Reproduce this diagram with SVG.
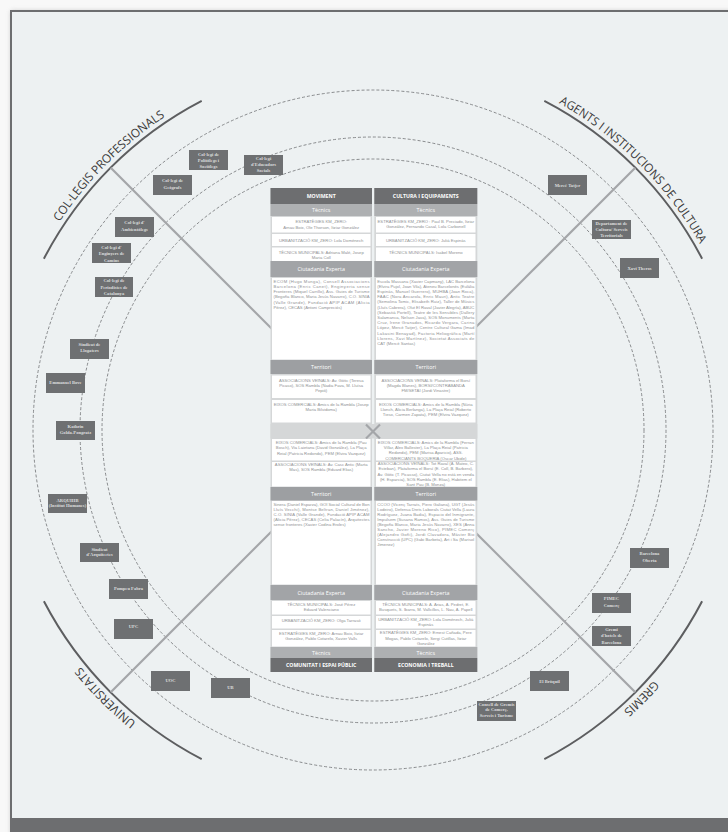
<svg xmlns="http://www.w3.org/2000/svg" width="728" height="832" viewBox="0 0 728 832">
<defs>
<filter id="sh" x="-5%" y="-5%" width="110%" height="110%"><feGaussianBlur stdDeviation="2.5"/></filter>
<path id="pTL" d="M 19.7 301.4 A 374 374 0 0 1 244.4 76.7"/>
<path id="pTR" d="M 501.6 76.7 A 374 374 0 0 1 726.3 301.4"/>
<path id="pBR" d="M 726.3 558.6 A 374 374 0 0 1 501.6 783.3"/>
<path id="pBL" d="M 244.4 783.3 A 374 374 0 0 1 19.7 558.6"/>
</defs>
<style>
.dash{fill:none;stroke:#7d7f81;stroke-width:0.9;stroke-dasharray:3 2}
.arc{fill:none;stroke:#5d5e60;stroke-width:2}
.con{stroke:#a4a6a9;stroke-width:2.2}
.lbl{font-family:"Open Sans","DejaVu Sans",sans-serif;font-size:12px;fill:#3a3a3a}
.nb{fill:#6e7072}
.nt{font-family:"Liberation Serif",serif;font-weight:bold;fill:#dcdddd;text-anchor:middle;font-size:4.6px}
.colbg{fill:#d5d7d8}
.hd{fill:#6d6e70}
.tc{fill:#aeb0b2}
.ce{fill:#a2a4a7}
.tr{fill:#9d9fa2}
.cell{fill:#fff}
.bt{font-family:"Open Sans",sans-serif;font-size:5.4px;fill:#fff;text-anchor:middle}
.ht{font-family:"Open Sans",sans-serif;font-size:5.2px;font-weight:bold;fill:#fff;text-anchor:middle}
.ct{font-family:"Liberation Sans",sans-serif;font-size:4.2px;fill:#8f9193;text-anchor:middle}
.jt{font-family:"Liberation Sans",sans-serif;font-size:4.2px;fill:#8f9193}
</style>
<rect width="728" height="832" fill="#f8f8f8"/>
<rect x="11" y="11" width="740" height="830" fill="#9a9a9a" opacity="0.6" filter="url(#sh)"/>
<rect x="11" y="11" width="740" height="830" fill="#edf1f2" stroke="#6d6e70" stroke-width="2"/>
<rect x="11" y="818" width="717" height="14" fill="#6d6e70"/>

<g id="rings">
<circle class="dash" cx="373" cy="430" r="340"/>
<circle class="dash" cx="373" cy="430" r="293"/>
<circle class="dash" cx="373" cy="430" r="271"/>
</g>

<g id="arcs">
<path class="arc" d="M 43.9 258.7 A 371 371 0 0 1 201.7 100.9"/>
<path class="arc" d="M 544.3 100.9 A 371 371 0 0 1 702.1 258.7"/>
<path class="arc" d="M 702.1 601.3 A 371 371 0 0 1 544.3 759.1"/>
<path class="arc" d="M 201.7 759.1 A 371 371 0 0 1 43.9 601.3"/>
<text class="lbl"><textPath href="#pTL" startOffset="50%" text-anchor="middle" textLength="150" lengthAdjust="spacingAndGlyphs">COL·LEGIS PROFESSIONALS</textPath></text>
<text class="lbl"><textPath href="#pTR" startOffset="50%" text-anchor="middle" textLength="202" lengthAdjust="spacingAndGlyphs">AGENTS I INSTITUCIONS DE CULTURA</textPath></text>
<text class="lbl"><textPath href="#pBR" startOffset="50%" text-anchor="middle" textLength="43" lengthAdjust="spacingAndGlyphs">GREMIS</textPath></text>
<text class="lbl"><textPath href="#pBL" startOffset="50%" text-anchor="middle" textLength="79" lengthAdjust="spacingAndGlyphs">UNIVERSITATS</textPath></text>
</g>

<g id="connectors">
<line class="con" x1="110.7" y1="167.7" x2="373" y2="430"/>
<line class="con" x1="635.3" y1="167.7" x2="373" y2="430"/>
<line class="con" x1="110.7" y1="692.3" x2="373" y2="430"/>
<line class="con" x1="635.3" y1="692.3" x2="373" y2="430"/>
</g>

<g id="table">
<rect class="colbg" x="270.5" y="188" width="101.5" height="484"/>
<rect class="colbg" x="374.3" y="188" width="103" height="484"/>
<rect class="colbg" x="270.5" y="424" width="206.8" height="14.5" fill="#d1d3d4"/>
<line class="con" x1="366" y1="424.5" x2="380" y2="438.5"/>
<line class="con" x1="380" y1="424.5" x2="366" y2="438.5"/>

<g id="col-moviment">
<rect class="hd" x="270.5" y="188" width="101.5" height="16"/>
<text class="ht" x="321.2" y="198">MOVIMENT</text>
<rect class="tc" x="270.5" y="204" width="101.5" height="12"/>
<text class="bt" x="321.2" y="212">Tècnics</text>
<rect class="cell" x="272" y="217" width="98.5" height="15.5"/>
<text class="ct" x="321.2" y="223">ESTRATÈGIES KM_ZERO:</text>
<text class="ct" x="321.2" y="228.5">Arnau Boix, Ole Thorson, Itziar González</text>
<rect class="cell" x="272" y="234" width="98.5" height="12"/>
<text class="ct" x="321.2" y="241.5">URBANITZACIÓ KM_ZERO: Lola Domènech</text>
<rect class="cell" x="272" y="247.5" width="98.5" height="13.5"/>
<text class="ct" x="321.2" y="253.5">TÈCNICS MUNICIPALS: Adriana Malé, Josep</text>
<text class="ct" x="321.2" y="258.8">Maria Coll</text>
<rect class="ce" x="270.5" y="261" width="101.5" height="16"/>
<text class="bt" x="321.2" y="271">Ciutadania Experta</text>
<rect class="cell" x="272" y="278" width="98.5" height="81.5"/>
<text class="jt" x="273.5" y="282.5" textLength="96" lengthAdjust="spacing">ECOM (Hugo Munga), Consell Associacions</text>
<text class="jt" x="273.5" y="287.8" textLength="96" lengthAdjust="spacing">Barcelona (Enric Canet), Enginyeria sense</text>
<text class="jt" x="273.5" y="293.1" textLength="96" lengthAdjust="spacing">Fronteres (Miquel Carrillo), Ass. Guies de Turisme</text>
<text class="jt" x="273.5" y="298.4" textLength="96" lengthAdjust="spacing">(Begoña Blanco, Maria Jesús Navarro), C.O. SÍNIA</text>
<text class="jt" x="273.5" y="303.7" textLength="96" lengthAdjust="spacing">(Valle Grande), Fundació APIP ACAM (Alicia</text>
<text class="jt" x="273.5" y="309">Pérez), CECAS (Antoni Campreciós)</text>
<rect class="tr" x="270.5" y="360" width="101.5" height="14"/>
<text class="bt" x="321.2" y="369">Territori</text>
<rect class="cell" x="272" y="375.5" width="98.5" height="22.5"/>
<text class="ct" x="321.2" y="381.5">ASSOCIACIONS VEÏNALS: Av. Gòtic (Teresa</text>
<text class="ct" x="321.2" y="386.8">Picaso), SOS Rambla (Nadia Fava, M. Lluïsa</text>
<text class="ct" x="321.2" y="392.1">Pepió)</text>
<rect class="cell" x="272" y="400" width="98.5" height="22.5"/>
<text class="ct" x="321.2" y="405.5">EIXOS COMERCIALS: Amics de la Rambla (Josep</text>
<text class="ct" x="321.2" y="410.8">Maria Bilvidoma)</text>
</g>

<g id="col-cultura">
<rect class="hd" x="374.3" y="188" width="103" height="16"/>
<text class="ht" x="425.8" y="198">CULTURA I EQUIPAMENTS</text>
<rect class="tc" x="374.3" y="204" width="103" height="12"/>
<text class="bt" x="425.8" y="212">Tècnics</text>
<rect class="cell" x="376" y="217" width="99.5" height="15.5"/>
<text class="ct" x="425.8" y="222.5">ESTRATÈGIES KM_ZERO : Paul B. Preciado, Itziar</text>
<text class="ct" x="425.8" y="227.8">González, Fernando Casal, Lola Carbonell</text>
<rect class="cell" x="376" y="234" width="99.5" height="12"/>
<text class="ct" x="425.8" y="241.5">URBANITZACIÓ KM_ZERO: Julià Espinàs</text>
<rect class="cell" x="376" y="247.5" width="99.5" height="13.5"/>
<text class="ct" x="425.8" y="253.5">TÈCNICS MUNICIPALS: Isabel Moreno</text>
<rect class="ce" x="374.3" y="261" width="103" height="16"/>
<text class="bt" x="425.8" y="271">Ciutadania Experta</text>
<rect class="cell" x="376" y="278" width="99.5" height="81.5"/>
<text class="jt" x="377.3" y="282.5" textLength="97" lengthAdjust="spacing">Escola Massana (Xavier Capmany), LAC Barcelona</text>
<text class="jt" x="377.3" y="287.7" textLength="97" lengthAdjust="spacing">(Elvira Pujol, Joan Vila), Ateneu Barcelonès (Eulàlia</text>
<text class="jt" x="377.3" y="292.9" textLength="97" lengthAdjust="spacing">Espinàs, Manuel Guerrero), MUHBA (Joan Roca),</text>
<text class="jt" x="377.3" y="298.1" textLength="97" lengthAdjust="spacing">FAAC (Nora Ancarola, Enric Mauri), Antic Teatre</text>
<text class="jt" x="377.3" y="303.3" textLength="97" lengthAdjust="spacing">(Semolina Tomic, Elisabeth Ruiz), Taller de Músics</text>
<text class="jt" x="377.3" y="308.5" textLength="97" lengthAdjust="spacing">(Lluís Cabrera), Olut El Raval (Javier Alegría), ABUC</text>
<text class="jt" x="377.3" y="313.7" textLength="97" lengthAdjust="spacing">(Sebastià Portell), Teatre de les Sensibles (Dallery</text>
<text class="jt" x="377.3" y="318.9" textLength="97" lengthAdjust="spacing">Salamanca, Nelson Java), SOS Monuments (Marta</text>
<text class="jt" x="377.3" y="324.1" textLength="97" lengthAdjust="spacing">Cruz, Irene Granados, Ricardo Vergara, Carina</text>
<text class="jt" x="377.3" y="329.3" textLength="97" lengthAdjust="spacing">López, Mercè Tatjer), Centre Cultural Gama (Imad</text>
<text class="jt" x="377.3" y="334.5" textLength="97" lengthAdjust="spacing">Lakasini Benayad), Factoria Heliogràfica (Martí</text>
<text class="jt" x="377.3" y="339.7" textLength="97" lengthAdjust="spacing">Llorens, Xavi Martínez), Societat Associats de</text>
<text class="jt" x="377.3" y="344.9">CAT (Mercè Santas)</text>
<rect class="tr" x="374.3" y="360" width="103" height="14"/>
<text class="bt" x="425.8" y="369">Territori</text>
<rect class="cell" x="376" y="375.5" width="99.5" height="22.5"/>
<text class="ct" x="425.8" y="381.5">ASSOCIACIONS VEÏNALS: Plataforma el Borsí</text>
<text class="ct" x="425.8" y="386.8">(Magda Blanes), BORSÍ/CONTRABANDA</text>
<text class="ct" x="425.8" y="392.1">FM/SETAI (Jordi Vinastre)</text>
<rect class="cell" x="376" y="400" width="99.5" height="22.5"/>
<text class="ct" x="425.8" y="405.5">EIXOS COMERCIALS: Amics de la Rambla (Núria</text>
<text class="ct" x="425.8" y="410.8">Llonch, Alicia Berlanga), La Plaça Reial (Roberto</text>
<text class="ct" x="425.8" y="416.1">Tieso, Carmen Zapata), PEM (Elvira Vazquez)</text>
</g>

<g id="col-comunitat">
<rect class="cell" x="272" y="439" width="98.5" height="21.5"/>
<text class="ct" x="321.2" y="444">EIXOS COMERCIALS: Amics de la Rambla (Pau</text>
<text class="ct" x="321.2" y="449.3">Bosch), Via Laietana (David González), La Plaça</text>
<text class="ct" x="321.2" y="454.6">Reial (Patricia Redondo), PEM (Elvira Vazquez)</text>
<rect class="cell" x="272" y="462" width="98.5" height="24.5"/>
<text class="ct" x="321.2" y="466">ASSOCIACIONS VEÏNALS: Av. Casc Antic (Marta</text>
<text class="ct" x="321.2" y="471.3">Mas), SOS Rambla (Eduard Elias)</text>
<rect class="tr" x="270.5" y="487" width="101.5" height="13.5"/>
<text class="bt" x="321.2" y="495.8">Territori</text>
<rect class="cell" x="272" y="501" width="98.5" height="83.5"/>
<text class="jt" x="273.5" y="505.5" textLength="96" lengthAdjust="spacing">Sinera (Daniel Esparza), GOI Social Cultural de Bon</text>
<text class="jt" x="273.5" y="510.7" textLength="96" lengthAdjust="spacing">Lluís Vecchi), Montse Beltran, Daniel Jiménez),</text>
<text class="jt" x="273.5" y="515.9" textLength="96" lengthAdjust="spacing">C.O. SÍNIA (Valle Grande), Fundació APIP ACAM</text>
<text class="jt" x="273.5" y="521.1" textLength="96" lengthAdjust="spacing">(Alicia Pérez), CECAS (Celia Palacín), Arquitectes</text>
<text class="jt" x="273.5" y="526.3">sense fronteres (Xavier Codina Eroles)</text>
<rect class="ce" x="270.5" y="585" width="101.5" height="15"/>
<text class="bt" x="321.2" y="594.5">Ciutadania Experta</text>
<rect class="cell" x="272" y="601" width="98.5" height="13.5"/>
<text class="ct" x="321.2" y="605.5">TÈCNICS MUNICIPALS: José Pérez</text>
<text class="ct" x="321.2" y="610.8">Eduard Valenciano</text>
<rect class="cell" x="272" y="616" width="98.5" height="12.5"/>
<text class="ct" x="321.2" y="622">URBANITZACIÓ KM_ZERO: Olga Tarrasó</text>
<rect class="cell" x="272" y="630" width="98.5" height="16.5"/>
<text class="ct" x="321.2" y="634.8">ESTRATÈGIES KM_ZERO: Arnau Boix, Itziar</text>
<text class="ct" x="321.2" y="640.1">González, Pablo Cotarelo, Xavier Valls</text>
<rect class="tc" x="270.5" y="647" width="101.5" height="11"/>
<text class="bt" x="321.2" y="654.5">Tècnics</text>
<rect class="hd" x="270.5" y="658" width="101.5" height="14"/>
<text class="ht" x="321.2" y="667">COMUNITAT I ESPAI PÚBLIC</text>
</g>

<g id="col-economia">
<rect class="cell" x="376" y="439" width="99.5" height="21.5"/>
<text class="ct" x="425.8" y="443.8">EIXOS COMERCIALS: Amics de la Rambla (Ferran</text>
<text class="ct" x="425.8" y="449.1">Villar, Alex Ballester), La Plaça Reial (Patricia</text>
<text class="ct" x="425.8" y="454.4">Redondo), PEM (Marisa Aparicio), ASS.</text>
<rect class="cell" x="376" y="462" width="99.5" height="24.5"/>
<text class="ct" x="425.8" y="459.7">COMERCIANTS BOQUERIA (Oscar Ubide)</text>
<text class="ct" x="425.8" y="465">ASSOCIACIONS VEÏNALS: Tot Raval (A. Mateo, C.</text>
<text class="ct" x="425.8" y="470.3">Esteban), Plataforma el Borsí (E. Coll, B. Barbero),</text>
<text class="ct" x="425.8" y="475.6">Av. Gòtic (T. Picasso), Ciutat Vella no està en venda</text>
<text class="ct" x="425.8" y="480.9">(H. Esparcia), SOS Rambla (E. Elias), Habitem el</text>
<text class="ct" x="425.8" y="486.2">Sant Pau (B. Monza)</text>
<rect class="tr" x="374.3" y="487" width="103" height="13.5"/>
<text class="bt" x="425.8" y="495.8">Territori</text>
<rect class="cell" x="376" y="501" width="99.5" height="83.5"/>
<text class="jt" x="377.3" y="505.5" textLength="97" lengthAdjust="spacing">CCOO (Vicenç Tarrats, Piero Galiana), UGT (Jesús</text>
<text class="jt" x="377.3" y="510.6" textLength="97" lengthAdjust="spacing">Lodeiro), Defensa Drets Laborals Ciutat Vella (Laura</text>
<text class="jt" x="377.3" y="515.7" textLength="97" lengthAdjust="spacing">Rodríguez, Juana Badia), Espacio del Inmigrante,</text>
<text class="jt" x="377.3" y="520.8" textLength="97" lengthAdjust="spacing">Impulsem (Susana Ramos), Ass. Guies de Turisme</text>
<text class="jt" x="377.3" y="525.9" textLength="97" lengthAdjust="spacing">(Begoña Blanco, Maria Jesús Navarro), XES (Anna</text>
<text class="jt" x="377.3" y="531" textLength="97" lengthAdjust="spacing">Sancho, Javier Moreno Rico), PIMEC Comerç</text>
<text class="jt" x="377.3" y="536.1" textLength="97" lengthAdjust="spacing">(Alejandro Goñi), Jordi Clavadora, Màster Bio</text>
<text class="jt" x="377.3" y="541.2" textLength="97" lengthAdjust="spacing">Construcció (UPC) (Gabi Barbeta), Art i Sa (Marisol</text>
<text class="jt" x="377.3" y="546.3">Jimenez)</text>
<rect class="ce" x="374.3" y="585" width="103" height="15"/>
<text class="bt" x="425.8" y="594.5">Ciutadania Experta</text>
<rect class="cell" x="376" y="601" width="99.5" height="13.5"/>
<text class="ct" x="425.8" y="605.5">TÈCNICS MUNICIPALS: A. Arias, A. Pedret, E.</text>
<text class="ct" x="425.8" y="610.8">Busquets, S. Ibarra, M. Vallcillos, L. Nau, A. Papell</text>
<rect class="cell" x="376" y="616" width="99.5" height="12.5"/>
<text class="ct" x="425.8" y="620.5">URBANITZACIÓ KM_ZERO: Lola Domènech, Julià</text>
<text class="ct" x="425.8" y="625.8">Espinàs</text>
<rect class="cell" x="376" y="630" width="99.5" height="16.5"/>
<text class="ct" x="425.8" y="634.3">ESTRATÈGIES KM_ZERO: Ernest Cañada, Pere</text>
<text class="ct" x="425.8" y="639.5">Mogas, Pablo Cotarelo, Sergi Cutillas, Itziar</text>
<text class="ct" x="425.8" y="644.7">González</text>
<rect class="tc" x="374.3" y="647" width="103" height="11"/>
<text class="bt" x="425.8" y="654.5">Tècnics</text>
<rect class="hd" x="374.3" y="658" width="103" height="14"/>
<text class="ht" x="425.8" y="667">ECONOMIA I TREBALL</text>
</g>
</g>

<g id="n-politolegs"><rect class="nb" x="189" y="150" width="39" height="20"/><text class="nt" x="208.5" y="156.3">Col·legi de</text><text class="nt" x="208.5" y="162">Politòlegs i</text><text class="nt" x="208.5" y="167.7">Sociòlegs</text></g>
<g id="n-educadors"><rect class="nb" x="244" y="155" width="39" height="20"/><text class="nt" x="263.5" y="160">Col·legi</text><text class="nt" x="263.5" y="166">d'Educadors</text><text class="nt" x="263.5" y="172">Socials</text></g>
<g id="n-geografs"><rect class="nb" x="153" y="175" width="39" height="20"/><text class="nt" x="172.5" y="182">Col·legi de</text><text class="nt" x="172.5" y="189">Geògrafs</text></g>
<g id="n-ambientolegs"><rect class="nb" x="115" y="217" width="39" height="20"/><text class="nt" x="134.5" y="224">Col·legi d'</text><text class="nt" x="134.5" y="231">Ambientòlegs</text></g>
<g id="n-enginyers"><rect class="nb" x="92" y="243" width="39" height="20"/><text class="nt" x="111.5" y="248.5">Col·legi d'</text><text class="nt" x="111.5" y="255">Enginyers de</text><text class="nt" x="111.5" y="261.5">Camins</text></g>
<g id="n-periodistes"><rect class="nb" x="95" y="277" width="38" height="20"/><text class="nt" x="114" y="282">Col·legi de</text><text class="nt" x="114" y="288.5">Periodistes de</text><text class="nt" x="114" y="295">Catalunya</text></g>
<g id="n-tatjer"><rect class="nb" x="548" y="175" width="39" height="20"/><text class="nt" x="567.5" y="186.5">Mercè Tatjer</text></g>
<g id="n-departament"><rect class="nb" x="592" y="220" width="39" height="19"/><text class="nt" x="611.5" y="225.2" font-size="3.5">Departament de</text><text class="nt" x="611.5" y="230.9" font-size="3.5">Cultura/ Serveis</text><text class="nt" x="611.5" y="236.6" font-size="3.5">Territorials</text></g>
<g id="n-theros"><rect class="nb" x="620" y="258" width="39" height="20"/><text class="nt" x="639.5" y="269.5">Xavi Theros</text></g>
<g id="n-llogaters"><rect class="nb" x="70" y="339" width="39" height="20"/><text class="nt" x="89.5" y="345.5" font-size="4.2">Sindicat de</text><text class="nt" x="89.5" y="352" font-size="4.2">Llogaters</text></g>
<g id="n-bove"><rect class="nb" x="46" y="373" width="39" height="20"/><text class="nt" x="65.5" y="384" font-size="4.2">Emmanuel Bove</text></g>
<g id="n-golda"><rect class="nb" x="56" y="421" width="39" height="19"/><text class="nt" x="75.5" y="428" font-size="4.2">Kathrin</text><text class="nt" x="75.5" y="434" font-size="4.2">Golda-Pongratz</text></g>
<g id="n-arquihb"><rect class="nb" x="48" y="494" width="39" height="19"/><text class="nt" x="67.5" y="501.5" font-size="4">ARQUIHB</text><text class="nt" x="67.5" y="507" font-size="3.3">(Institut Humanes)</text></g>
<g id="n-arquitectes"><rect class="nb" x="80" y="543" width="39" height="19"/><text class="nt" x="99.5" y="550.5" font-size="4">Sindicat</text><text class="nt" x="99.5" y="555.5" font-size="4">d'Arquitectes</text></g>
<g id="n-pompeu"><rect class="nb" x="109" y="579" width="39" height="20"/><text class="nt" x="128.5" y="590" font-size="3.8">Pompeu Fabra</text></g>
<g id="n-upc"><rect class="nb" x="114" y="619" width="39" height="20"/><text class="nt" x="133.5" y="627.5" font-size="3.8">UPC</text></g>
<g id="n-uoc"><rect class="nb" x="151" y="671" width="39" height="20"/><text class="nt" x="170.5" y="681.5" font-size="3.8">UOC</text></g>
<g id="n-ub"><rect class="nb" x="211" y="678" width="39" height="20"/><text class="nt" x="230.5" y="688.5" font-size="3.8">UB</text></g>
<g id="n-oberta"><rect class="nb" x="630" y="548" width="39" height="20"/><text class="nt" x="649.5" y="555">Barcelona</text><text class="nt" x="649.5" y="561.5">Oberta</text></g>
<g id="n-pimec"><rect class="nb" x="592" y="593" width="39" height="20"/><text class="nt" x="611.5" y="600">PIMEC</text><text class="nt" x="611.5" y="606.5">Comerç</text></g>
<g id="n-gremi"><rect class="nb" x="592" y="626" width="39" height="20"/><text class="nt" x="611.5" y="630.5">Gremi</text><text class="nt" x="611.5" y="637">d'hotels de</text><text class="nt" x="611.5" y="643.5">Barcelona</text></g>
<g id="n-broquil"><rect class="nb" x="530" y="671" width="39" height="20"/><text class="nt" x="549.5" y="682.5">El Bròquil</text></g>
<g id="n-consell"><rect class="nb" x="477" y="701" width="39" height="20"/><text class="nt" x="496.5" y="705.5" font-size="3.8">Consell de Gremis</text><text class="nt" x="496.5" y="711.3" font-size="3.8">de Comerç,</text><text class="nt" x="496.5" y="717" font-size="3.8">Serveis i Turisme</text></g>
</svg>
